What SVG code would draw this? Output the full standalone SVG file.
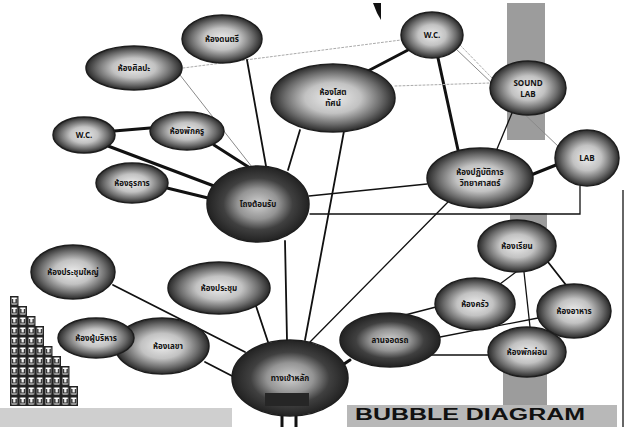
<svg xmlns="http://www.w3.org/2000/svg" width="629" height="427" viewBox="0 0 629 427">
<defs>
<radialGradient id="g" cx="50%" cy="50%" r="50%">
<stop offset="0%" stop-color="#ececec"/>
<stop offset="45%" stop-color="#c2c2c2"/>
<stop offset="78%" stop-color="#6a6a6a"/>
<stop offset="100%" stop-color="#2a2a2a"/>
</radialGradient>
<radialGradient id="gd" cx="50%" cy="50%" r="50%">
<stop offset="0%" stop-color="#d0d0d0"/>
<stop offset="40%" stop-color="#949494"/>
<stop offset="68%" stop-color="#404040"/>
<stop offset="100%" stop-color="#222"/>
</radialGradient>
<pattern id="cells" patternUnits="userSpaceOnUse" x="10" y="296" width="8.5" height="10">
<rect width="8.5" height="10" fill="#222"/>
<rect x="1.5" y="1.5" width="5.5" height="7" fill="#fff"/>
<path d="M2.5 3 V7 H6 V3" fill="none" stroke="#222" stroke-width="1.2"/>
</pattern>
<style>
.n ellipse{fill:url(#g);stroke:#1e1e1e;stroke-width:1.5}
.n.d ellipse{fill:url(#gd)}
.n text{font-family:"Noto Sans Thai","Noto Sans","DejaVu Sans",sans-serif;font-size:8px;font-weight:bold;fill:#111;text-anchor:middle}
.c line,.c path{stroke:#111;fill:none;stroke-linecap:round}
.t1{stroke-width:1.3}
.t2{stroke-width:1.8}
.t3{stroke-width:3}
.gr{stroke:#8a8a8a!important;stroke-width:1}
.fd{stroke:#aaa!important;stroke-width:1;stroke-dasharray:2 2}
.bar{fill:#9c9c9c}
</style>
</defs>
<rect width="629" height="427" fill="#fff"/>
<g id="background">
<rect class="bar" x="507" y="3" width="38" height="137"/>
<rect class="bar" x="510" y="213" width="37" height="15"/>
<rect class="bar" x="503" y="370" width="44" height="36"/>
<rect x="0" y="408" width="232" height="19" fill="#cfcfcf"/>
<rect x="347" y="405" width="270" height="22" fill="#b8b8b8"/>
<text x="355" y="420" font-family="Liberation Sans,Arial,sans-serif" font-size="16" font-weight="bold" fill="#111" textLength="230" lengthAdjust="spacingAndGlyphs">BUBBLE DIAGRAM</text>
<line x1="623" y1="190" x2="623" y2="427" stroke="#333" stroke-width="1.5"/>
<polygon points="373,3 381,3 381,20 377,13" fill="#111"/>
<polygon points="10,296 18.5,296 18.5,306 27,306 27,316 35.5,316 35.5,326 44,326 44,346 52.5,346 52.5,356 61,356 61,366 69.5,366 69.5,386 78,386 78,406 10,406" fill="url(#cells)"/>
</g>
<g id="connectors" class="c">
<line class="gr" x1="180" y1="75" x2="252" y2="167"/>
<line class="fd" x1="183" y1="68" x2="401" y2="40"/>
<line class="t2" x1="247" y1="60" x2="266" y2="166"/>
<line class="t3" x1="366" y1="72" x2="408" y2="50"/>
<line class="t2" x1="300" y1="130" x2="288" y2="170"/>
<line class="t2" x1="344" y1="131" x2="305" y2="340"/>
<line class="t3" x1="114" y1="131" x2="150" y2="128"/>
<line class="t3" x1="108" y1="146" x2="214" y2="186" stroke-width="3.5"/>
<line class="t3" x1="214" y1="145" x2="250" y2="168"/>
<line class="t3" x1="167" y1="188" x2="208" y2="198"/>
<line class="t1" x1="309" y1="196" x2="427" y2="184"/>
<path class="t1" d="M310 214 H580 V186" stroke="#555"/>
<line class="t2" x1="285" y1="241" x2="287" y2="340"/>
<line class="t3" x1="438" y1="58" x2="458" y2="150"/>
<line class="gr" x1="455" y1="48" x2="560" y2="148"/>
<line class="fd" x1="460" y1="45" x2="492" y2="78"/>
<line class="fd" x1="395" y1="86" x2="490" y2="83"/>
<line class="t1" x1="512" y1="113" x2="497" y2="149"/>
<line class="t3" x1="531" y1="175" x2="556" y2="165"/>
<line class="t1" x1="448" y1="202" x2="310" y2="342"/>
<line class="t1" x1="516" y1="272" x2="500" y2="284"/>
<line class="t2" x1="548" y1="262" x2="566" y2="285"/>
<line class="t1" x1="524" y1="272" x2="530" y2="327"/>
<line class="t1" x1="405" y1="315" x2="436" y2="307"/>
<line class="t1" x1="435" y1="338" x2="538" y2="318"/>
<line class="t1" x1="430" y1="355" x2="488" y2="355"/>
<line class="t3" x1="338" y1="368" x2="350" y2="360" stroke-width="4"/>
<line class="t2" x1="113" y1="285" x2="245" y2="352"/>
<line class="t2" x1="256" y1="306" x2="268" y2="342"/>
<line class="t2" x1="205" y1="362" x2="236" y2="378"/>
<line class="t3" x1="282" y1="414" x2="282" y2="427"/>
<line class="t3" x1="296" y1="414" x2="296" y2="427"/>
</g>
<g id="n1" class="n"><ellipse cx="222" cy="39" rx="40" ry="24"/><text x="222" y="42">ห้องดนตรี</text></g>
<g id="n2" class="n"><ellipse cx="134" cy="68" rx="48" ry="22"/><text x="134" y="71">ห้องศิลปะ</text></g>
<g id="n3" class="n"><ellipse cx="333" cy="98" rx="62" ry="34"/><text x="333" y="95">ห้องโสต</text><text x="333" y="106">ทัศน์</text></g>
<g id="n4" class="n"><ellipse cx="432" cy="35" rx="31" ry="23"/><text x="432" y="38">W.C.</text></g>
<g id="n5" class="n"><ellipse cx="528" cy="88" rx="38" ry="27"/><text x="528" y="86">SOUND</text><text x="528" y="97">LAB</text></g>
<g id="n6" class="n"><ellipse cx="587" cy="158" rx="32" ry="28"/><text x="587" y="161">LAB</text></g>
<g id="n7" class="n"><ellipse cx="480" cy="178" rx="53" ry="30"/><text x="480" y="175">ห้องปฏิบัติการ</text><text x="480" y="186">วิทยาศาสตร์</text></g>
<g id="n8" class="n"><ellipse cx="84" cy="135" rx="31" ry="18"/><text x="84" y="138">W.C.</text></g>
<g id="n9" class="n"><ellipse cx="187" cy="131" rx="37" ry="19"/><text x="187" y="134">ห้องพักครู</text></g>
<g id="n10" class="n"><ellipse cx="132" cy="183" rx="36" ry="20"/><text x="132" y="186">ห้องธุรการ</text></g>
<g id="n11" class="n d"><ellipse cx="258" cy="204" rx="51" ry="38"/><text x="258" y="207">โถงต้อนรับ</text></g>
<g id="n12" class="n"><ellipse cx="517" cy="246" rx="39" ry="26"/><text x="517" y="249">ห้องเรียน</text></g>
<g id="n13" class="n"><ellipse cx="475" cy="304" rx="40" ry="26"/><text x="475" y="307">ห้องครัว</text></g>
<g id="n14" class="n"><ellipse cx="574" cy="311" rx="37" ry="27"/><text x="574" y="314">ห้องอาหาร</text></g>
<g id="n15" class="n"><ellipse cx="527" cy="352" rx="39" ry="25"/><text x="527" y="355">ห้องพักผ่อน</text></g>
<g id="n16" class="n"><ellipse cx="73" cy="272" rx="42" ry="27"/><text x="73" y="275">ห้องประชุมใหญ่</text></g>
<g id="n17" class="n"><ellipse cx="219" cy="288" rx="51" ry="26"/><text x="219" y="291">ห้องประชุม</text></g>
<g id="n18" class="n"><ellipse cx="162" cy="346" rx="47" ry="28"/><text x="168" y="349">ห้องเลขา</text></g>
<g id="n19" class="n"><ellipse cx="96" cy="338" rx="38" ry="20"/><text x="96" y="341">ห้องผู้บริหาร</text></g>
<g id="n20" class="n d"><ellipse cx="290" cy="378" rx="58" ry="38"/><text x="290" y="381">ทางเข้าหลัก</text><rect x="265" y="393" width="44" height="13" fill="#262626"/></g>
<g id="n21" class="n d"><ellipse cx="390" cy="340" rx="50" ry="27"/><text x="390" y="343">ลานจอดรถ</text></g>
</svg>
